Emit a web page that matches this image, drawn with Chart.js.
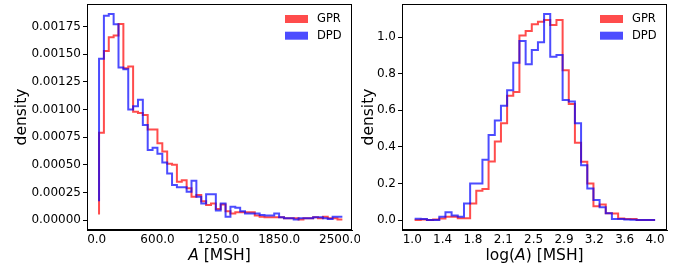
<!DOCTYPE html>
<html>
<head>
<meta charset="utf-8">
<script src="https://cdn.jsdelivr.net/npm/chart.js@4.4.1/dist/chart.umd.min.js"></script>
<style>
  html, body { margin: 0; padding: 0; background: #fff; }
  #wrap { position: relative; width: 688px; height: 269px; }
  canvas { position: absolute; top: 0; }
</style>
</head>
<body>
<div id="wrap">
  <canvas id="leftChart" width="360" height="269" style="left:0"></canvas>
  <canvas id="rightChart" width="328" height="269" style="left:360px"></canvas>
</div>
<script>
// series names
const seriesNames = ["GPR", "DPD"];

// left panel: A [MSH], 50 bins
const leftEdges = [24, 74, 124, 174, 224, 274, 324, 374, 424, 474, 524, 574, 624, 674, 724, 774, 824, 874, 924, 974,
    1024, 1074, 1124, 1174, 1224, 1274, 1324, 1374, 1424, 1474, 1524, 1574, 1624, 1674, 1724, 1774, 1824, 1874, 1924, 1974,
    2024, 2074, 2124, 2174, 2224, 2274, 2324, 2374, 2424, 2474, 2524];
const leftGPR = [0.00079, 0.00153, 0.001655, 0.00167, 0.001775, 0.001374, 0.00139, 0.00098, 0.00097, 0.00095,
    0.00082, 0.00082, 0.000695, 0.00062, 0.00051, 0.0005, 0.000347, 0.00036, 0.000287, 0.00021,
    0.000226, 0.00017, 0.000136, 0.00015, 0.0001, 0.00014, 0.00008, 0.00006, 0.00007, 0.00007,
    0.00007, 0.00007, 0.00004, 0.00003, 0.000025, 0.000025, 0.000025, 0.000025, 0.000015, 0.000015,
    0.000015, 0.000005, 0.000015, 0.000015, 0.000025, 0.000015, 0.00003, 0.000015, 0.000015, 0.000005];
const leftDPD = [0.00146, 0.00185, 0.001866, 0.001772, 0.00138, 0.001365, 0.001, 0.00103, 0.00109, 0.00086,
    0.000634, 0.000655, 0.0006, 0.00052, 0.00042, 0.000317, 0.000296, 0.000296, 0.000256, 0.000356,
    0.000211, 0.00015, 0.000233, 0.000233, 0.000085, 0.00015, 0.00003, 0.00012, 0.00011, 0.00008,
    0.00006, 0.00006, 0.00006, 0.000045, 0.00004, 0.00004, 0.00006, 0.000025, 0.000015, 0.000015,
    0.000005, 0.000015, 0.000015, 0.000015, 0.000025, 0.000025, 0.000015, 0.00001, 0.00003, 0.00003];
const leftStart = [0.00005, 0.00017];   // where the first edge line begins
const leftXTicks = [0, 625, 1250, 1875, 2500];
const leftXLabels = ["0.0", "600.0", "1250.0", "1850.0", "2500.0"];
const leftYTicks = [0, 0.00025, 0.0005, 0.00075, 0.001, 0.00125, 0.0015, 0.00175];

// right panel: log(A) [MSH], 39 bins
const rightEdges = [1.029, 1.105, 1.181, 1.258, 1.334, 1.41, 1.486, 1.562, 1.639, 1.715,
    1.791, 1.867, 1.943, 2.02, 2.096, 2.172, 2.248, 2.324, 2.401, 2.477,
    2.553, 2.629, 2.705, 2.782, 2.858, 2.934, 3.01, 3.086, 3.163, 3.239,
    3.315, 3.391, 3.467, 3.544, 3.62, 3.696, 3.772, 3.848, 3.925, 4.001];
const rightGPR = [0.0, 0.003, 0.0, 0.003, 0.008, 0.018, 0.018, 0.01, 0.01, 0.09,
    0.16, 0.17, 0.32, 0.43, 0.53, 0.68, 0.70, 1.01, 1.034, 1.071,
    1.085, 1.095, 1.067, 1.095, 0.82, 0.635, 0.423, 0.319, 0.2, 0.075,
    0.085, 0.037, 0.035, 0.008, 0.005, 0.005, 0.0, 0.0, 0.0];
const rightDPD = [0.007, 0.005, 0.0, 0.0, 0.018, 0.042, 0.024, 0.018, 0.09, 0.2,
    0.2, 0.33, 0.465, 0.545, 0.625, 0.71, 0.86, 0.98, 0.852, 0.93,
    0.973, 1.127, 0.894, 0.903, 0.657, 0.648, 0.529, 0.30, 0.173, 0.109,
    0.07, 0.037, 0.005, 0.005, 0.003, 0.002, 0.0, 0.0, 0.0];
const rightXTicks = [1.0, 1.375, 1.75, 2.125, 2.5, 2.875, 3.25, 3.625, 4.0];
const rightXLabels = ["1.0", "1.4", "1.8", "2.1", "2.5", "2.9", "3.2", "3.6", "4.0"];
const rightYTicks = [0, 0.2, 0.4, 0.6, 0.8, 1.0];

const RED = "rgba(255,0,0,0.7)";
const BLUE = "rgba(0,0,255,0.7)";
const FONT = "'DejaVu Sans', sans-serif";

// histogram outline as stepped points
function steps(edges, vals, start) {
    const pts = [];
    if (start !== undefined) pts.push({ x: edges[0], y: start });
    vals.forEach((v, i) => pts.push({ x: edges[i], y: v }));
    pts.push({ x: edges[vals.length], y: vals[vals.length - 1] });
    return pts;
}

// frame + legend + x title with italic A
const decor = {
    id: "decor",
    afterDraw(chart, args, opts) {
        const ctx = chart.ctx;
        const a = chart.chartArea;
        ctx.save();
        ctx.strokeStyle = "#000";
        ctx.lineWidth = 1;
        ctx.strokeRect(a.left + 0.5, a.top + 0.5, a.right - a.left - 1, a.bottom - a.top - 1);

        // legend
        ctx.font = "11.5px " + FONT;
        ctx.textBaseline = "middle";
        ctx.textAlign = "left";
        chart.data.datasets.slice().sort((p, q) => p.legendIndex - q.legendIndex).forEach((ds, i) => {
            const y = a.top + 11 + i * 16.7;
            ctx.fillStyle = ds.borderColor;
            ctx.fillRect(a.right - 67, y, 23, 8);
            ctx.fillStyle = "#000";
            ctx.fillText(ds.label, a.right - 35, y + 4.5);
        });

        // x title
        const parts = opts.title;
        let w = 0;
        parts.forEach(p => { ctx.font = (p.italic ? "italic " : "") + "15.5px " + FONT; w += ctx.measureText(p.t).width; });
        let x = (a.left + a.right) / 2 - w / 2;
        ctx.fillStyle = "#000";
        parts.forEach(p => {
            ctx.font = (p.italic ? "italic " : "") + "15.5px " + FONT;
            ctx.fillText(p.t, x, 256);
            x += ctx.measureText(p.t).width;
        });
        ctx.restore();
    }
};

function makeChart(id, cfg) {
    return new Chart(document.getElementById(id).getContext("2d"), {
        type: "line",
        data: {
            datasets: [
                { label: seriesNames[0], legendIndex: 0, data: cfg.red, borderColor: RED, order: 2 },
                { label: seriesNames[1], legendIndex: 1, data: cfg.blue, borderColor: BLUE, order: 1 }
            ].map(d => Object.assign(d, { stepped: true, borderWidth: 2, pointRadius: 0, fill: false, tension: 0 }))
        },
        options: {
            responsive: false,
            animation: false,
            devicePixelRatio: 1,
            layout: { padding: { left: 0, right: cfg.padRight, top: 4, bottom: 0 } },
            plugins: {
                legend: { display: false },
                tooltip: { enabled: false },
                decor: { title: cfg.xTitle }
            },
            scales: {
                x: {
                    type: "linear",
                    min: cfg.xMin, max: cfg.xMax,
                    afterFit: s => { s.height = 39; s.paddingLeft = 0; s.paddingRight = 0; },
                    afterBuildTicks: s => { s.ticks = cfg.xTicks.map(v => ({ value: v })); },
                    ticks: {
                        autoSkip: false, maxRotation: 0, padding: 3, color: "#000",
                        font: { family: FONT, size: 12 },
                        callback: (v, i) => cfg.xLabels[i]
                    },
                    grid: { display: false, drawTicks: false },
                    border: { display: true, color: "#000", width: 1 }
                },
                y: {
                    min: cfg.yMin, max: cfg.yMax,
                    afterFit: s => { s.width = cfg.yWidth; s.paddingTop = 0; s.paddingBottom = 0; },
                    afterBuildTicks: s => { s.ticks = cfg.yTicks.map(v => ({ value: v })); },
                    ticks: {
                        autoSkip: false, padding: 2, color: "#000",
                        font: { family: FONT, size: 12 },
                        callback: v => v.toFixed(cfg.yDigits)
                    },
                    grid: { drawOnChartArea: false, drawTicks: true, tickLength: 4, color: "#000" },
                    border: { display: true, color: "#000", width: 1 },
                    title: {
                        display: true, text: "density", color: "#000",
                        font: { family: FONT, size: 15.5 },
                        padding: { top: cfg.yTitlePad, bottom: 0 }
                    }
                }
            }
        },
        plugins: [decor]
    });
}

makeChart("leftChart", {
    red: steps(leftEdges, leftGPR, leftStart[0]),
    blue: steps(leftEdges, leftDPD, leftStart[1]),
    xMin: -99.7, xMax: 2623, xTicks: leftXTicks, xLabels: leftXLabels,
    yMin: -0.0000905, yMax: 0.001956, yTicks: leftYTicks, yDigits: 5,
    yWidth: 87, padRight: 8, yTitlePad: 13,
    xTitle: [{ t: "A", italic: true }, { t: " [MSH]" }]
});

makeChart("rightChart", {
    red: steps(rightEdges, rightGPR),
    blue: steps(rightEdges, rightDPD),
    xMin: 0.873, xMax: 4.148, xTicks: rightXTicks, xLabels: rightXLabels,
    yMin: -0.0547, yMax: 1.182, yTicks: rightYTicks, yDigits: 1,
    yWidth: 42, padRight: 21, yTitlePad: 0,
    xTitle: [{ t: "log(" }, { t: "A", italic: true }, { t: ") [MSH]" }]
});
</script>
</body>
</html>
